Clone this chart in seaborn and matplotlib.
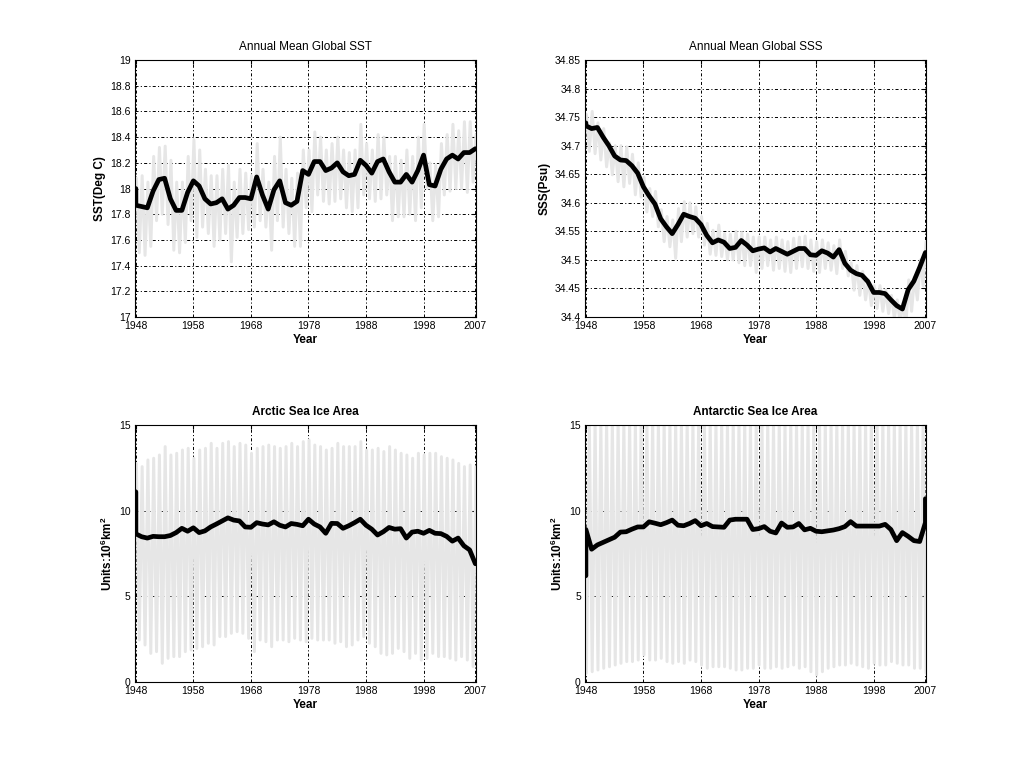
import numpy as np
import pandas as pd
import matplotlib
matplotlib.use('Agg')
import matplotlib.pyplot as plt
import seaborn as sns

# --- data (1948-2007) ---
years = list(range(1948, 2008))

# annual mean (black) and yearly max / min of the monthly series (grey)
sst_annual = [17.87, 17.86, 17.85, 17.98, 18.07, 18.08, 17.92, 17.83, 17.83, 17.97,
              18.06, 18.02, 17.92, 17.88, 17.89, 17.92, 17.84, 17.87, 17.93, 17.93,
              17.92, 18.09, 17.95, 17.84, 17.99, 18.06, 17.89, 17.87, 17.90, 18.14,
              18.11, 18.21, 18.21, 18.14, 18.16, 18.20, 18.13, 18.10, 18.11, 18.22,
              18.18, 18.12, 18.21, 18.23, 18.13, 18.05, 18.05, 18.11, 18.05, 18.14,
              18.26, 18.03, 18.02, 18.15, 18.23, 18.26, 18.23, 18.28, 18.28, 18.31]
sst_start = 18.0
sst_max = [18.08, 18.10, 18.05, 18.25, 18.32, 18.33, 18.22, 18.05, 18.05, 18.25,
           18.38, 18.30, 18.15, 18.10, 18.10, 18.15, 18.18, 18.05, 18.15, 18.12,
           18.10, 18.35, 18.15, 18.05, 18.25, 18.40, 18.15, 18.08, 18.12, 18.30,
           18.30, 18.44, 18.40, 18.30, 18.35, 18.40, 18.30, 18.28, 18.30, 18.50,
           18.35, 18.30, 18.42, 18.40, 18.25, 18.25, 18.22, 18.30, 18.25, 18.40,
           18.50, 18.20, 18.18, 18.35, 18.42, 18.50, 18.45, 18.52, 18.52, 18.42]
sst_min = [17.50, 17.48, 17.55, 17.75, 17.80, 17.72, 17.52, 17.50, 17.58, 17.75,
           17.62, 17.70, 17.65, 17.55, 17.60, 17.65, 17.43, 17.62, 17.65, 17.68,
           17.70, 17.75, 17.70, 17.52, 17.75, 17.70, 17.65, 17.55, 17.55, 17.85,
           17.82, 17.95, 17.90, 17.88, 17.90, 17.92, 17.85, 17.82, 17.85, 17.95,
           17.92, 17.90, 17.92, 17.95, 17.75, 17.78, 17.78, 17.80, 17.75, 17.85,
           18.00, 17.75, 17.78, 17.95, 17.98, 18.00, 18.00, 17.97, 18.05, 18.05]

sss_annual = [34.735, 34.730, 34.732, 34.715, 34.700, 34.682, 34.675, 34.674, 34.665, 34.652,
              34.628, 34.612, 34.598, 34.572, 34.558, 34.546, 34.562, 34.580, 34.576, 34.573,
              34.562, 34.543, 34.530, 34.535, 34.531, 34.520, 34.522, 34.534, 34.526, 34.516,
              34.519, 34.521, 34.514, 34.520, 34.515, 34.510, 34.515, 34.520, 34.520, 34.509,
              34.508, 34.516, 34.512, 34.505, 34.518, 34.494, 34.482, 34.476, 34.473, 34.462,
              34.443, 34.443, 34.441, 34.430, 34.420, 34.414, 34.448, 34.463, 34.487, 34.513]
sss_start = 34.74
sss_max = [34.755, 34.760, 34.740, 34.730, 34.705, 34.700, 34.700, 34.698, 34.685, 34.670,
           34.645, 34.625, 34.620, 34.588, 34.576, 34.570, 34.590, 34.602, 34.600, 34.593,
           34.576, 34.564, 34.552, 34.561, 34.546, 34.545, 34.550, 34.548, 34.545, 34.540,
           34.540, 34.540, 34.535, 34.540, 34.535, 34.532, 34.538, 34.540, 34.542, 34.535,
           34.532, 34.535, 34.530, 34.525, 34.535, 34.515, 34.495, 34.490, 34.480, 34.465,
           34.455, 34.455, 34.447, 34.438, 34.430, 34.425, 34.465, 34.470, 34.500, 34.532]
sss_min = [34.690, 34.686, 34.675, 34.663, 34.649, 34.637, 34.628, 34.634, 34.614, 34.610,
           34.584, 34.576, 34.558, 34.532, 34.523, 34.503, 34.532, 34.540, 34.546, 34.540,
           34.526, 34.510, 34.508, 34.506, 34.500, 34.500, 34.495, 34.490, 34.490, 34.478,
           34.485, 34.490, 34.482, 34.485, 34.480, 34.478, 34.485, 34.488, 34.485, 34.480,
           34.478, 34.485, 34.482, 34.476, 34.485, 34.472, 34.447, 34.438, 34.430, 34.420,
           34.415, 34.410, 34.406, 34.398, 34.390, 34.385, 34.410, 34.430, 34.455, 34.488]

arc_annual = [8.65, 8.48, 8.40, 8.50, 8.48, 8.48, 8.55, 8.72, 8.97, 8.80,
              9.00, 8.72, 8.82, 9.05, 9.22, 9.40, 9.58, 9.45, 9.40, 9.05,
              9.03, 9.30, 9.22, 9.17, 9.35, 9.15, 9.05, 9.25, 9.20, 9.12,
              9.50, 9.22, 9.05, 8.68, 9.26, 9.25, 8.97, 9.12, 9.30, 9.50,
              9.15, 8.92, 8.58, 8.77, 9.02, 8.92, 8.95, 8.40, 8.75, 8.80,
              8.68, 8.85, 8.68, 8.66, 8.50, 8.22, 8.40, 7.95, 7.71, 6.90]
arc_start = 11.1
arc_max = [12.76, 12.57, 12.96, 13.06, 13.25, 13.74, 13.25, 13.35, 13.54, 13.64,
           13.06, 13.54, 13.64, 13.93, 13.64, 13.93, 14.03, 13.74, 13.93, 13.83,
           13.35, 13.64, 13.74, 13.83, 13.74, 13.64, 13.74, 13.93, 13.74, 14.03,
           14.12, 13.83, 13.74, 13.54, 13.64, 13.93, 13.74, 13.74, 13.74, 14.03,
           13.54, 13.54, 13.64, 13.45, 13.74, 13.54, 13.35, 13.25, 13.06, 13.35,
           13.25, 13.35, 13.35, 13.15, 13.06, 12.96, 12.76, 12.57, 12.67, 12.57]
arc_min = [2.45, 2.16, 1.67, 1.77, 1.09, 1.38, 1.48, 1.48, 1.77, 1.87,
           1.96, 2.06, 2.26, 2.16, 2.65, 2.65, 2.84, 2.94, 2.84, 2.55,
           1.77, 2.45, 2.35, 2.06, 2.45, 2.45, 2.35, 2.55, 2.45, 2.35,
           2.55, 2.45, 2.45, 2.45, 2.26, 2.35, 2.06, 2.16, 2.45, 2.65,
           2.26, 2.06, 1.67, 1.58, 1.67, 1.96, 1.77, 1.38, 1.67, 1.28,
           1.38, 1.67, 1.48, 1.48, 1.38, 1.28, 1.48, 1.28, 0.90, 1.09]

ant_annual = [8.90, 7.75, 8.00, 8.15, 8.30, 8.45, 8.75, 8.77, 8.92, 9.05,
              9.05, 9.35, 9.27, 9.18, 9.30, 9.45, 9.15, 9.12, 9.25, 9.42,
              9.12, 9.25, 9.07, 9.05, 9.03, 9.45, 9.50, 9.50, 9.50, 8.90,
              8.95, 9.07, 8.80, 8.70, 9.28, 9.03, 9.05, 9.25, 8.88, 8.97,
              8.80, 8.77, 8.82, 8.87, 8.95, 9.07, 9.36, 9.10, 9.10, 9.10,
              9.10, 9.10, 9.20, 8.90, 8.25, 8.72, 8.50, 8.25, 8.20, 9.30]
ant_start = 6.2
ant_end = 10.7
ant_max = [15.2, 15.3, 15.2, 15.3, 15.2, 15.3, 15.2, 15.3, 15.2, 15.3,
           15.2, 15.3, 15.2, 15.3, 15.2, 15.3, 15.2, 15.3, 15.2, 15.3,
           15.2, 15.3, 15.2, 15.3, 15.2, 15.3, 15.2, 15.3, 15.2, 15.3,
           15.2, 15.3, 15.2, 15.3, 15.2, 15.3, 15.2, 15.3, 15.2, 15.3,
           15.2, 15.3, 15.2, 15.3, 15.2, 15.3, 15.2, 15.3, 15.2, 15.3,
           15.2, 15.3, 15.2, 15.3, 15.2, 15.3, 15.2, 15.3, 15.2, 15.3]
ant_min = [0.51, 0.60, 0.70, 0.80, 0.89, 0.99, 1.09, 1.19, 1.19, 1.28,
           1.58, 1.28, 1.28, 1.38, 1.19, 1.09, 1.19, 1.09, 1.28, 1.19,
           0.99, 0.80, 0.89, 0.89, 0.89, 0.80, 0.70, 0.70, 0.80, 0.80,
           0.99, 0.80, 0.80, 0.89, 0.80, 0.89, 0.99, 0.80, 0.89, 0.60,
           0.41, 0.60, 0.80, 0.89, 0.99, 0.99, 1.09, 0.99, 0.89, 0.80,
           1.09, 0.99, 0.99, 1.19, 1.09, 0.99, 0.99, 0.80, 0.80, 0.51]

xtick_years = [1948, 1958, 1968, 1978, 1988, 1998, 2007]

# --- style (MATLAB-like) ---
sns.set_theme(style='white')
plt.rcParams['font.family'] = ['Liberation Sans', 'DejaVu Sans']
plt.rcParams['mathtext.fontset'] = 'custom'
plt.rcParams['mathtext.rm'] = 'Liberation Sans'
plt.rcParams['mathtext.bf'] = 'Liberation Sans:bold'
plt.rcParams['lines.scale_dashes'] = False
plt.rcParams['axes.edgecolor'] = 'black'
plt.rcParams['axes.linewidth'] = 0.8
plt.rcParams['text.color'] = 'black'
plt.rcParams['axes.labelcolor'] = 'black'
plt.rcParams['xtick.color'] = 'black'
plt.rcParams['ytick.color'] = 'black'

GREY = '#e6e6e6'


def grey_frame(vmax, vmin, max_first=True):
    # one peak and one trough per year -> seasonal zig-zag
    xs, ys = [], []
    for yr, hi, lo in zip(years, vmax, vmin):
        a, b = (hi, lo) if max_first else (lo, hi)
        xs += [yr + 0.1, yr + 0.6]
        ys += [a, b]
    return pd.DataFrame({'x': xs, 'y': ys})


def draw_panel(ax, annual, vmax, vmin, title, ylabel, ylim, yticks,
               max_first=True, start=None, end=None, title_bold=False):
    g = grey_frame(vmax, vmin, max_first)
    sns.lineplot(data=g, x='x', y='y', ax=ax, color=GREY, lw=2.15,
                 estimator=None, sort=False)
    xs = list(years)
    ys = list(annual)
    if start is not None:
        xs = [years[0]] + xs
        ys = [start] + ys
    if end is not None:
        xs = xs + [years[-1]]
        ys = ys + [end]
    sns.lineplot(x=xs, y=ys, ax=ax, color='black', lw=3.4,
                 estimator=None, sort=False)

    ax.set_xlim(1947.85, 2007.1)
    ax.set_ylim(*ylim)
    ax.set_xticks(xtick_years)
    ax.set_xticklabels([str(y) for y in xtick_years])
    ax.set_yticks(yticks)
    ax.set_yticklabels(['%g' % round(v, 2) for v in yticks])
    ax.set_axisbelow(True)
    ax.grid(True, color='black', lw=0.7, linestyle=(0, (2.2, 1.6, 0.8, 1.6)))
    ax.tick_params(direction='in', length=3, width=0.8, labelsize=7.5,
                   pad=3, colors='black', top=True, right=True)
    for s in ax.spines.values():
        s.set_visible(True)
        s.set_color('black')
    ax.set_title(title, fontsize=8.5, pad=7,
                 fontweight='bold' if title_bold else 'normal')
    ax.set_xlabel('Year', fontsize=8.5, fontweight='bold', labelpad=2)
    ax.set_ylabel(ylabel, fontsize=8.5, fontweight='bold', labelpad=3)


fig = plt.figure(figsize=(10.24, 7.68), dpi=100)
ax1 = fig.add_axes([0.1318, 0.5872, 0.333, 0.3346])
ax2 = fig.add_axes([0.5713, 0.5872, 0.333, 0.3346])
ax3 = fig.add_axes([0.1318, 0.1120, 0.333, 0.3346])
ax4 = fig.add_axes([0.5713, 0.1120, 0.333, 0.3346])

draw_panel(ax1, sst_annual, sst_max, sst_min, 'Annual Mean Global SST',
           'SST(Deg C)', (17, 19), list(np.arange(17, 19.01, 0.2)),
           start=sst_start)
draw_panel(ax2, sss_annual, sss_max, sss_min, 'Annual Mean Global SSS',
           'SSS(Psu)', (34.4, 34.85), list(np.arange(34.4, 34.851, 0.05)),
           start=sss_start)
draw_panel(ax3, arc_annual, arc_max, arc_min, 'Arctic Sea Ice Area',
           r'Units:10$^{\bf 6}$km$^{\bf 2}$', (0, 15), [0, 5, 10, 15],
           start=arc_start, title_bold=True)
draw_panel(ax4, ant_annual, ant_max, ant_min, 'Antarctic Sea Ice Area',
           r'Units:10$^{\bf 6}$km$^{\bf 2}$', (0, 15), [0, 5, 10, 15],
           max_first=False, start=ant_start, end=ant_end, title_bold=True)

fig.savefig('out.png', dpi=100, facecolor='white')
